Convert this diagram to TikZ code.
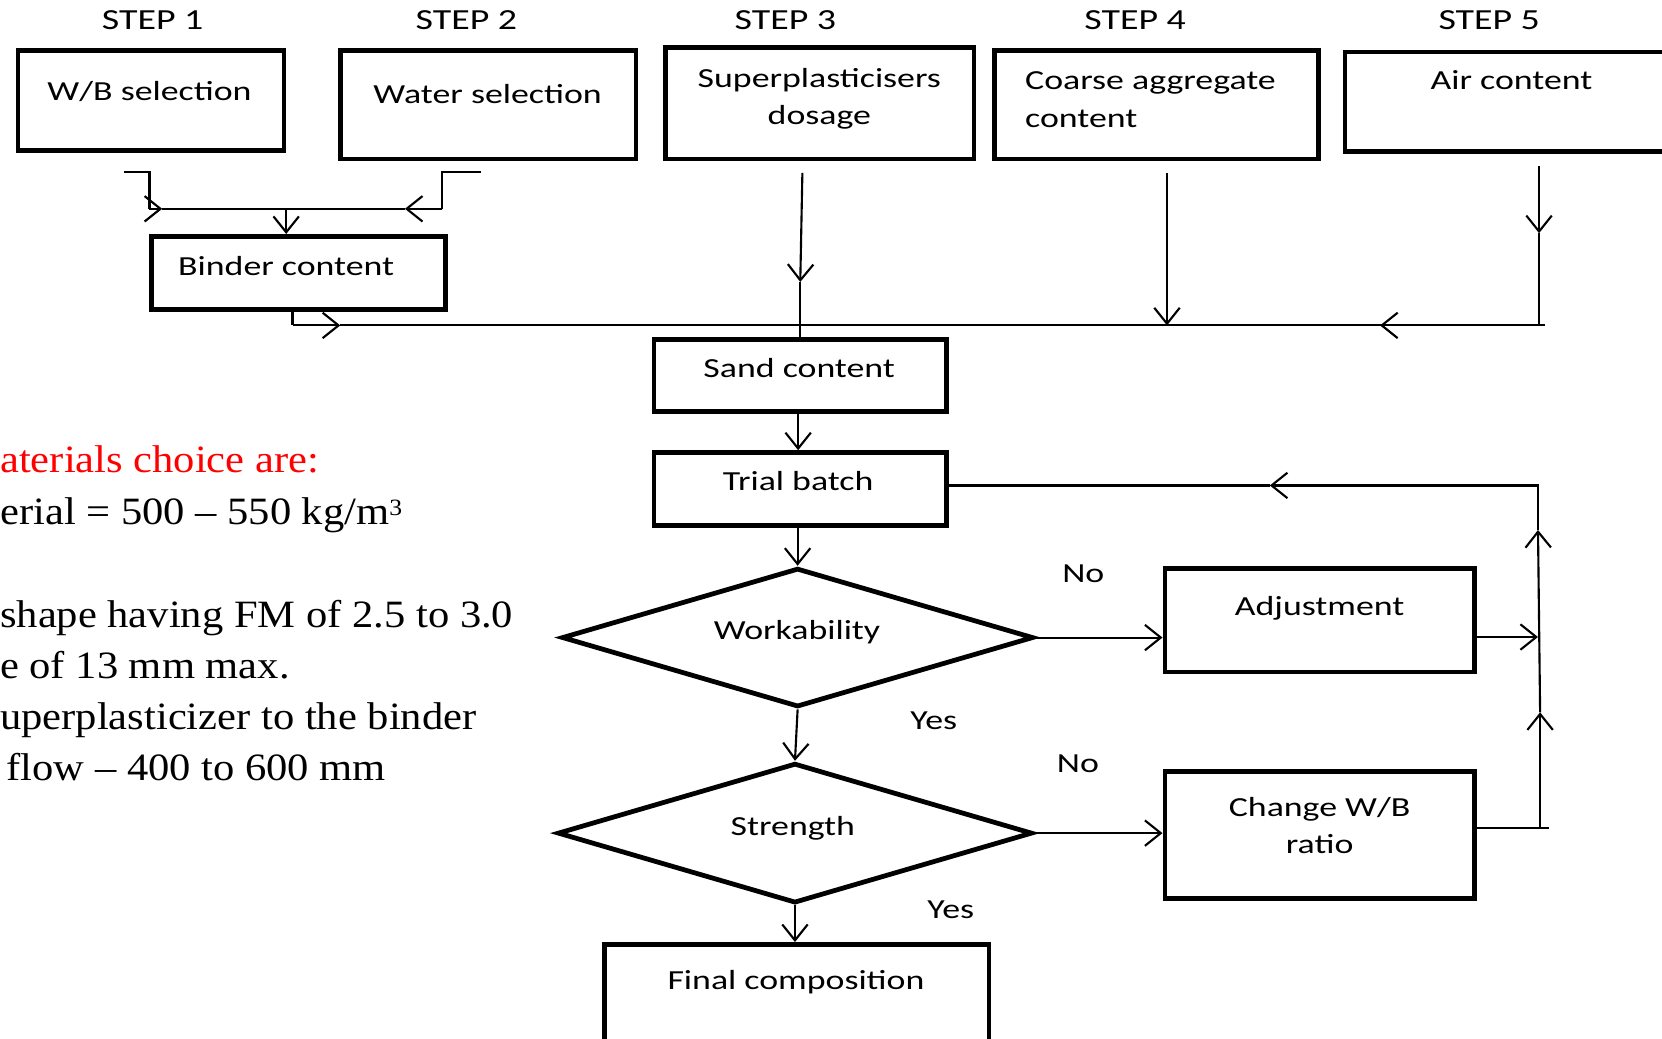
\documentclass[tikz,border=0pt]{standalone}
\usepackage{fontspec}
\setmainfont{Carlito}[FakeStretch=1.3]
\newfontfamily\tnr{Liberation Serif}[FakeStretch=1.1]
\usetikzlibrary{arrows.meta,shapes.geometric}
\begin{document}
\begin{tikzpicture}[x=1pt,y=-1pt,
  box/.style={draw, line width=4.5pt, inner sep=0pt},
  dia/.style={draw, diamond, line width=4.5pt, inner sep=0pt},
  lbl/.style={inner sep=0pt, font=\fontsize{26}{35}\selectfont},
  steplbl/.style={inner sep=0pt, font=\fontsize{27.5}{35}\selectfont},
  note/.style={inner sep=0pt, anchor=base west, font=\tnr\fontsize{36.5}{48}\selectfont},
  ln/.style={line width=2pt},
  arr/.style={line width=2pt, -{Straight Barb[length=15pt,width=24pt,line width=2pt]}}]
\useasboundingbox (0,0) rectangle (1568,980);
\clip (0,0) rectangle (1568,980);
\fill[white] (0,0) rectangle (1568,980);

% step labels
\node[steplbl] (s1) at (144,19) {STEP 1};
\node[steplbl] (s2) at (440,19) {STEP 2};
\node[steplbl] (s3) at (741,19) {STEP 3};
\node[steplbl] (s4) at (1071,19) {STEP 4};
\node[steplbl] (s5) at (1405,19) {STEP 5};

% boxes
\node[box, minimum width=251pt, minimum height=94pt] (wb) at (142.5,95) {};
\node[box, minimum width=279pt, minimum height=102pt] (water) at (460.5,99) {};
\node[box, minimum width=291pt, minimum height=105pt] (sp) at (773.5,97.5) {};
\node[box, minimum width=306pt, minimum height=102pt] (ca) at (1091,99) {};
\node[box, minimum width=330pt, minimum height=94pt] (air) at (1434,96) {};
\node[box, minimum width=277pt, minimum height=69pt] (binder) at (281.5,257.5) {};
\node[box, minimum width=276pt, minimum height=68pt] (sand) at (755,354) {};
\node[box, minimum width=276pt, minimum height=69pt] (trial) at (755,461.5) {};
\node[dia, minimum width=445pt, minimum height=131pt] (wk) at (752.5,601.5) {};
\node[box, minimum width=292pt, minimum height=98pt] (adj) at (1245,585) {};
\node[dia, minimum width=448pt, minimum height=132pt] (st) at (750,786) {};
\node[box, minimum width=292pt, minimum height=120pt] (chg) at (1245,788) {};
\node[box, minimum width=363pt, minimum height=118pt] (fin) at (751.5,950) {};

% box texts
\node[lbl] (wbt) at (141,86) {W/B selection};
\node[lbl] (watert) at (460,89) {Water selection};
\node[lbl, align=center] (spt) at (773,93) {Superplasticisers\\dosage};
\node[lbl, align=left, anchor=west] (cat) at (967,94) {Coarse aggregate\\content};
\node[lbl] (airt) at (1426,76) {Air content};
\node[lbl] (bindert) at (270,251) {Binder content};
\node[lbl] (sandt) at (754,347) {Sand content};
\node[lbl] (trialt) at (753,454) {Trial batch};
\node[lbl] (wkt) at (752,596) {Workability};
\node[lbl] (adjt) at (1245,574) {Adjustment};
\node[lbl] (stt) at (748,781) {Strength};
\node[lbl, align=center] (chgt) at (1245,779) {Change W/B\\ratio};
\node[lbl] (fint) at (751,927) {Final composition};
\node[lbl] (no1) at (1022,541) {No};
\node[lbl] (yes1) at (881,680) {Yes};
\node[lbl] (no2) at (1017,721) {No};
\node[lbl] (yes2) at (897,858) {Yes};

% notes on the left
\node[note, text=red] (n1) at (0,446) {aterials choice are:};
\node[note] (n2) at (0,495) {erial = 500 – 550 kg/m\textsuperscript{\fontsize{22}{22}\selectfont 3}};
\node[note] (n3) at (0,592) {shape having FM of 2.5 to 3.0};
\node[note] (n4) at (0,640) {e of 13 mm max.};
\node[note] (n5) at (0,688) {uperplasticizer to the binder};
\node[note] (n6) at (6,736) {flow – 400 to 600 mm};

% step 1 / step 2 brackets
\coordinate (l0) at (117,162);
\coordinate (l1) at (141,162);
\coordinate (l2) at (141,197);
\coordinate (la) at (153,197);
\coordinate (r0) at (454,162);
\coordinate (r1) at (417,162);
\coordinate (r2) at (417,197);
\coordinate (ra) at (382,197);
\coordinate (j1) at (270,197);
\draw[ln] (l0) -- (l1) -- (l2);
\draw[ln] (r0) -- (r1) -- (r2);
\draw[arr] (l2) -- (la);
\draw[arr] (r2) -- (ra);
\draw[ln] (la) -- (ra);
\draw[arr] (j1) -- (j1 |- binder.north);

% main collecting line
\coordinate (b1) at (276,307);
\coordinate (ba) at (321,307);
\coordinate (mend) at (1458,307);
\draw[ln] (b1 |- binder.south) -- (b1);
\draw[arr] (b1) -- (ba);
\draw[ln] (ba) -- (mend);

% step 3
\coordinate (p3) at (757,163);
\coordinate (p3a) at (755,266);
\draw[arr] (p3) -- (p3a);
\draw[ln] (p3a) -- (p3a |- sand.north);

% step 4
\coordinate (p4) at (1101,163);
\draw[arr] (p4) -- (p4 |- mend);

% step 5
\coordinate (p5) at (1452,157);
\coordinate (p5a) at (1452,220);
\coordinate (p5b) at (1452,307);
\coordinate (p5c) at (1302,307);
\draw[arr] (p5) -- (p5a);
\draw[ln] (p5a) -- (p5b);
\draw[arr] (p5b) -- (p5c);

% main flow
\draw[arr] (sand.south -| 753,0) -- (trial.north -| 753,0);
\draw[arr] (trial.south -| wk.north) -- (wk.north);
\draw[arr] (wk.east) -- (wk.east -| adj.west);
\draw[arr] (wk.south) -- (st.north);
\draw[arr] (st.east) -- (st.east -| chg.west);
\draw[arr] (st.south) -- (st.south |- fin.north);

% feedback loop
\coordinate (fa) at (1451,601);
\coordinate (fc0) at (1453,781);
\coordinate (fc1) at (1461,781);
\coordinate (fu1) at (1453,672);
\coordinate (fu2) at (1451,500);
\coordinate (ft) at (1451,458);
\coordinate (fl) at (1198,458);
\draw[arr] (adj.east |- fa) -- (fa);
\draw[ln] (chg.east |- fc0) -- (fc1);
\draw[arr] (fc0) -- (fu1);
\draw[arr] (fu1) -- (fu2);
\draw[arr] (fu2) -- (ft) -- (fl);
\draw[ln] (fl) -- (fl -| trial.east);
\end{tikzpicture}
\end{document}
